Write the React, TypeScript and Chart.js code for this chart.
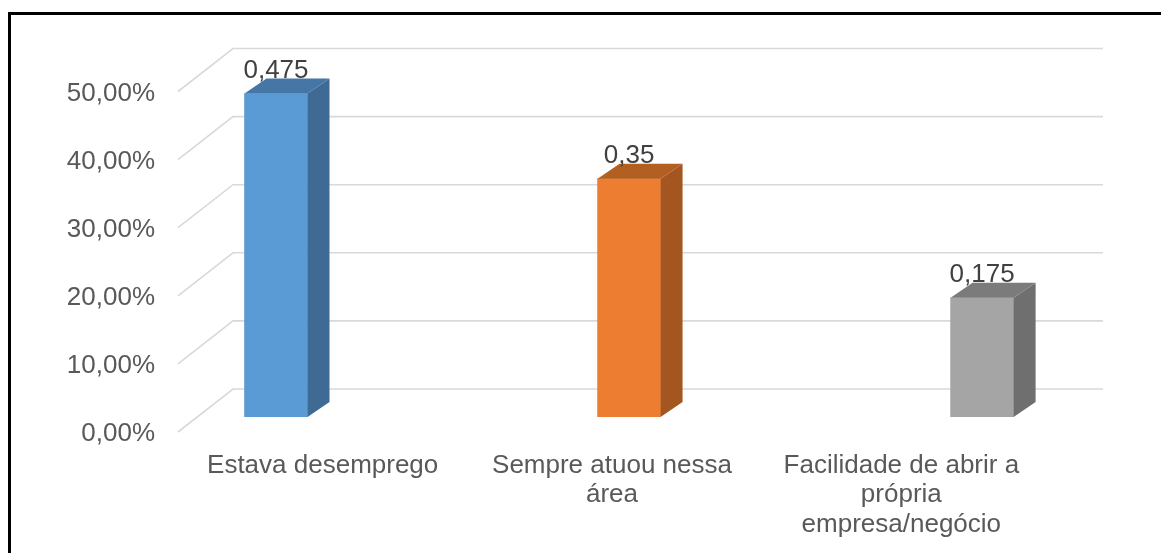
import React, { useEffect, useRef } from "react";
import { Chart, registerables } from "chart.js";

Chart.register(...registerables);

const categories: (string | string[])[] = [
  "Estava desemprego",
  ["Sempre atuou nessa", "área"],
  ["Facilidade de abrir a", "própria", "empresa/negócio"],
];
const values: number[] = [0.475, 0.35, 0.175];
const frontColors = ["#5b9bd5", "#ed7d31", "#a5a5a5"];
const sideColors = ["#3f6a93", "#a3561f", "#6f6f6f"];
const topColors = ["#4676a6", "#b45f22", "#7b7b7b"];
const yTicks: number[] = [0, 0.1, 0.2, 0.3, 0.4, 0.5];

const FONT = "'Liberation Sans', Arial, sans-serif";

const fmtPct = (v: number) => (v * 100).toFixed(2).replace(".", ",") + "%";
const fmtVal = (v: number) => String(v).replace(".", ",");

// 3D geometry (pixels)
const BACK_DX = 55; // back wall shift right
const BACK_DY = -28; // back wall shift up relative to bar front plane
const FRONT_DY = 15; // front floor edge relative to bar front plane
const BAR_DX = 22;
const BAR_DY = -15;

const threeD = {
  id: "threeD",
  beforeDatasetsDraw(chart: any) {
    const { ctx, chartArea, scales } = chart;
    const y = scales.y;
    ctx.save();
    ctx.strokeStyle = "#d9d9d9";
    ctx.lineWidth = 1.6;
    yTicks.forEach((t) => {
      const py = y.getPixelForValue(t);
      const by = py + BACK_DY;
      const fy = py + FRONT_DY;
      ctx.beginPath();
      ctx.moveTo(chartArea.left, fy);
      ctx.lineTo(chartArea.left + BACK_DX, by);
      ctx.lineTo(chartArea.right + BACK_DX + 2, by);
      ctx.stroke();
    });
    ctx.restore();
  },
  afterDatasetsDraw(chart: any) {
    const { ctx } = chart;
    const meta = chart.getDatasetMeta(0);
    ctx.save();
    meta.data.forEach((bar: any, i: number) => {
      const { x, y, base, width } = bar.getProps(["x", "y", "base", "width"], true);
      const l = x - width / 2;
      const r = x + width / 2;
      // side
      ctx.fillStyle = sideColors[i];
      ctx.beginPath();
      ctx.moveTo(r, y);
      ctx.lineTo(r + BAR_DX, y + BAR_DY);
      ctx.lineTo(r + BAR_DX, base + BAR_DY);
      ctx.lineTo(r, base);
      ctx.closePath();
      ctx.fill();
      // top
      ctx.fillStyle = topColors[i];
      ctx.beginPath();
      ctx.moveTo(l, y);
      ctx.lineTo(l + BAR_DX, y + BAR_DY);
      ctx.lineTo(r + BAR_DX, y + BAR_DY);
      ctx.lineTo(r, y);
      ctx.closePath();
      ctx.fill();
      // value label
      ctx.fillStyle = "#404040";
      ctx.font = `26px ${FONT}`;
      ctx.textAlign = "center";
      ctx.textBaseline = "middle";
      ctx.fillText(fmtVal(values[i]), x, y - 23);
    });
    ctx.restore();
  },
};

export default function App() {
  const ref = useRef<HTMLCanvasElement | null>(null);

  useEffect(() => {
    if (!ref.current) return;
    const chart = new Chart(ref.current, {
      type: "bar",
      data: {
        labels: categories as any,
        datasets: [
          {
            data: values.map((v, i) => ({ x: i, y: v })) as any,
            backgroundColor: frontColors,
            borderWidth: 0,
            xAxisID: "xb",
            barThickness: 63,
          },
        ],
      },
      options: {
        animation: false,
        responsive: false,
        maintainAspectRatio: false,
        layout: { padding: { left: 0, right: 115, top: 76.5, bottom: 0 } },
        plugins: { legend: { display: false }, tooltip: { enabled: false } },
        scales: {
          x: {
            type: "category",
            position: "bottom",
            offset: true,
            grid: { display: false, drawTicks: false },
            border: { display: false },
            ticks: {
              color: "#595959",
              font: { family: FONT, size: 26, lineHeight: 1.13 },
              padding: 34,
              maxRotation: 0,
              autoSkip: false,
            },
            afterFit: (s: any) => {
              s.height = 136;
            },
          },
          xb: {
            type: "linear",
            display: false,
            min: -0.2776,
            max: 2.181,
            offset: false,
          },
          y: {
            min: 0,
            max: 0.5,
            grid: { display: false, drawTicks: false },
            border: { display: false },
            ticks: {
              stepSize: 0.1,
              color: "#595959",
              font: { family: FONT, size: 26 },
              padding: 23,
              labelOffset: 17,
              callback: (v: any) => fmtPct(Number(v)),
            },
            afterFit: (s: any) => {
              s.width = 178;
            },
          },
        },
      },
      plugins: [threeD],
    });
    return () => chart.destroy();
  }, []);

  return (
    <div
      style={{
        position: "fixed",
        left: 0,
        top: 0,
        width: 1161,
        height: 553,
        background: "#ffffff",
        overflow: "hidden",
      }}
    >
      <canvas
        ref={ref}
        width={1161}
        height={553}
        style={{ position: "absolute", left: 0, top: 0, width: 1161, height: 553 }}
      />
      <div
        style={{
          position: "absolute",
          left: 8,
          top: 12,
          width: 1200,
          height: 600,
          border: "3px solid #000",
          pointerEvents: "none",
        }}
      />
    </div>
  );
}
